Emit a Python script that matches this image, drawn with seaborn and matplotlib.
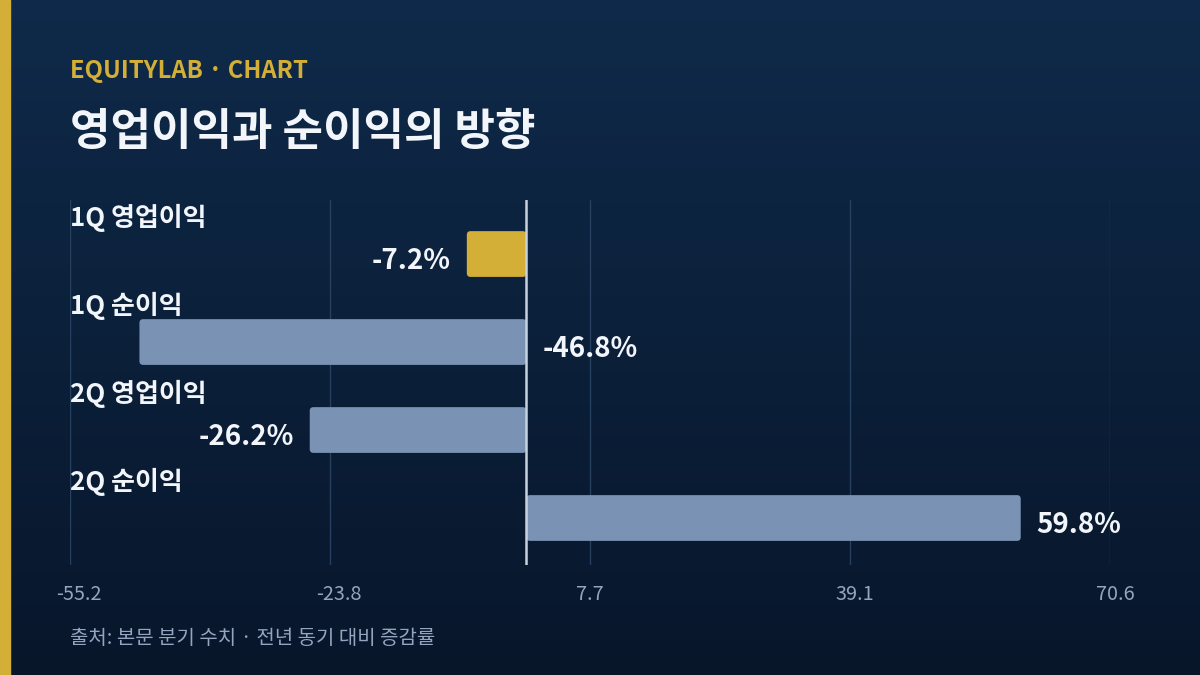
import numpy as np
import matplotlib
matplotlib.use('Agg')
import matplotlib.pyplot as plt
from matplotlib.patches import Rectangle, FancyBboxPatch
from matplotlib.transforms import ScaledTranslation
import seaborn as sns

# ── DATA ────────────────────────────────────────────────────────────────────
categories = ["1Q 영업이익", "1Q 순이익", "2Q 영업이익", "2Q 순이익"]
values     = [-7.2, -46.8, -26.2, 59.8]
x_ticks    = [-55.2, -23.75, 7.7, 39.15, 70.6]
x_labels   = ["-55.2", "-23.8", "7.7", "39.1", "70.6"]
highlight  = "1Q 영업이익"

# ── STYLE ───────────────────────────────────────────────────────────────────
GOLD   = "#d4af37"
STEEL  = "#7a93b4"
WHITE  = "#f2f5fa"
MUTED  = "#94a5bf"
GRID   = "#27405f"
TOP_BG = np.array([15, 42, 74]) / 255
BOT_BG = np.array([8, 22, 42]) / 255

sns.set_theme(style="white")
plt.rcParams['font.family'] = ['Noto Sans CJK KR', 'DejaVu Sans']

W, H = 1200, 675
DPI = 100
fig = plt.figure(figsize=(12, 6.75), dpi=DPI)

# background gradient
bg = fig.add_axes([0, 0, 1, 1], zorder=-10)
t = np.linspace(0, 1, 256)[:, None, None]
grad = TOP_BG * (1 - t) + BOT_BG * t
bg.imshow(np.repeat(grad, 2, axis=1), aspect='auto', extent=[0, 1, 0, 1])
bg.set_axis_off()
fig.patches.append(Rectangle((0, 0), 10 / W, 1, transform=fig.transFigure,
                             color=GOLD, zorder=5))

# ── AXES ────────────────────────────────────────────────────────────────────
ax = fig.add_axes([70 / W, 1 - 565 / H, 1040 / W, 365 / H])
ax.patch.set_alpha(0)

colors = [GOLD if c == highlight else STEEL for c in categories]
sns.barplot(x=values, y=categories, hue=categories, palette=colors,
            legend=False, orient='h', width=0.52, ax=ax, saturation=1)

ax.set_xlim(-55.2, 70.6)
ax.set_ylim(3.534, -0.614)

# rounded bars
for p in list(ax.patches):
    x0, y0 = p.get_x(), p.get_y()
    w, h = p.get_width(), p.get_height()
    fc = p.get_facecolor()
    p.remove()
    if w < 0:
        x0, w = x0 + w, -w
    ax.add_patch(FancyBboxPatch((x0, y0), w, h,
                                boxstyle="round,pad=0,rounding_size=0.45",
                                mutation_aspect=0.094, fc=fc, ec='none', zorder=3))

for xt in x_ticks:
    ax.axvline(xt, color=GRID, lw=1, zorder=1)
ax.axvline(0, color="#c8d2de", lw=1.8, zorder=4)

ax.set_xticks(x_ticks)
ax.set_xticklabels(x_labels)
ax.set_yticks([])
ax.set_xlabel("")
ax.set_ylabel("")
ax.tick_params(axis='x', length=0, pad=14, labelsize=14.3, colors=MUTED)
# the reference nudges the tick labels slightly to the right
for lbl, shift in zip(ax.get_xticklabels(), [9, 9, 0, 5, 5]):
    lbl.set_transform(lbl.get_transform() + ScaledTranslation(shift / DPI, 0, fig.dpi_scale_trans))
for s in ax.spines.values():
    s.set_visible(False)

# category labels and value labels
for i, (cat, v) in enumerate(zip(categories, values)):
    ax.text(-55.2, i - 0.41, cat, ha='left', va='center', fontsize=18.7,
            fontweight='bold', color=WHITE, zorder=6)
    txt = f"{v:.1f}%"
    if v >= 0:
        xy, off, ha = (v, i), (16, -7), 'left'
    elif v < -40:
        xy, off, ha = (0, i), (16, -7), 'left'
    else:
        xy, off, ha = (v, i), (-16, -7), 'right'
    ax.annotate(txt, xy=xy, xytext=off, textcoords='offset pixels',
                ha=ha, va='center', fontsize=20, fontweight='bold',
                color=WHITE, zorder=6)

# ── HEADER / FOOTER ─────────────────────────────────────────────────────────
fig.text(70 / W, 1 - 71 / H, "EQUITYLAB · CHART", ha='left', va='center',
         fontsize=17.2, fontweight='bold', color=GOLD)
fig.text(70 / W, 1 - 132 / H, "영업이익과 순이익의 방향", ha='left', va='center',
         fontsize=31.7, fontweight='bold', color=WHITE)
fig.text(70 / W, 1 - 638 / H, "출처: 본문 분기 수치 · 전년 동기 대비 증감률",
         ha='left', va='center', fontsize=14.4, color=MUTED)

fig.savefig("out.png", dpi=DPI, facecolor=fig.get_facecolor())
plt.close(fig)
